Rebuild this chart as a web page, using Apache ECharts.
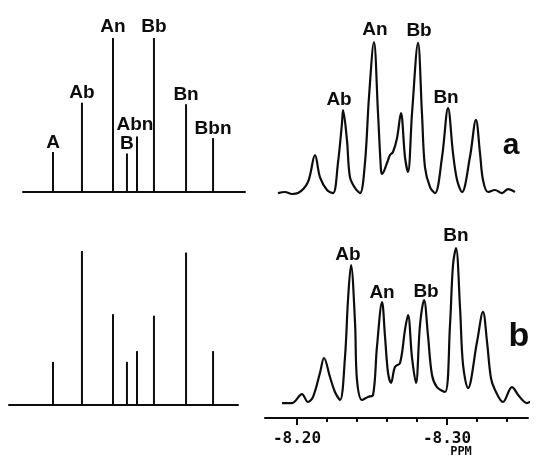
<!DOCTYPE html>
<html><head><meta charset="utf-8">
<script src="https://cdn.jsdelivr.net/npm/echarts@6/dist/echarts.min.js"></script>
<style>html,body{margin:0;padding:0;background:#fff}#c{width:545px;height:459px}</style>
</head><body><div id="c"></div>
<script>
// ---- data ----
const stickNames = ['A','Ab','An','B','Abn','Bb','Bn','Bbn'];
const stickPpm = [-8.212,-8.2313,-8.252,-8.2613,-8.268,-8.2793,-8.3007,-8.3187];
const stickHeightsA = [26,58,100,25,36,100,57,35];
const stickHeightsB = [28,100,59,28,35,58,99,35];

const spectrumA = [[-8.1873,1.9],[-8.192,2.6],[-8.1967,1.3],[-8.2007,1.9],[-8.2073,9.1],[-8.212,26.6],[-8.2153,12.3],[-8.22,3.9],[-8.224,1.9],[-8.2273,21.4],[-8.23,47.4],[-8.2307,55.8],[-8.2333,36.4],[-8.2353,12.3],[-8.2387,5.2],[-8.242,1.9],[-8.2453,21.4],[-8.248,64.3],[-8.2513,100],[-8.254,53.9],[-8.256,16.9],[-8.2567,14.3],[-8.26,21.4],[-8.262,26.6],[-8.264,28.6],[-8.2667,37.7],[-8.2693,53.9],[-8.272,25.3],[-8.274,15.6],[-8.2767,53.9],[-8.2807,99.4],[-8.2833,53.9],[-8.2853,18.8],[-8.2887,5.8],[-8.292,1.9],[-8.2967,25.3],[-8.3007,57.1],[-8.304,27.9],[-8.3067,10.4],[-8.31,2.6],[-8.3153,25.3],[-8.3193,49.4],[-8.322,27.9],[-8.324,10.4],[-8.3273,2.6],[-8.332,3.9],[-8.3367,1.9],[-8.3407,4.5],[-8.3453,2.6]];

const spectrumB = [[-8.19,8.8],[-8.1967,8.8],[-8.2033,14.1],[-8.2073,9.4],[-8.2107,12.4],[-8.2153,26.5],[-8.218,35.3],[-8.222,24.1],[-8.2253,15.3],[-8.2287,10.6],[-8.232,35.9],[-8.234,69.4],[-8.236,90],[-8.2387,55.9],[-8.24,22.4],[-8.2433,10.6],[-8.2473,12.4],[-8.2507,13.5],[-8.2533,41.8],[-8.2567,68.2],[-8.2587,47.6],[-8.2607,26.5],[-8.2627,20.6],[-8.2653,30],[-8.2687,32.4],[-8.272,51.8],[-8.274,60.6],[-8.2767,35.3],[-8.2793,20.6],[-8.282,54.7],[-8.2847,69.4],[-8.2873,48.8],[-8.29,25.3],[-8.2933,18.2],[-8.2987,15.3],[-8.302,54.7],[-8.304,90],[-8.306,100],[-8.3087,64.7],[-8.3107,31.2],[-8.314,17.6],[-8.32,44.7],[-8.324,62.4],[-8.3267,44.7],[-8.3293,23.5],[-8.332,16.5],[-8.3373,9.4],[-8.3433,18.2],[-8.348,12.9],[-8.3533,8.8],[-8.36,11.8],[-8.3653,13.5]];

const peakNamesA = ['Ab','An','Bb','Bn'];
const peakPpmA = [-8.2307,-8.2513,-8.2807,-8.3007];
const peakHeightA = [55.8,100,99.4,57.1];
const peakNamesB = ['Ab','An','Bb','Bn'];
const peakPpmB = [-8.236,-8.2567,-8.2847,-8.306];
const peakHeightB = [90,68.2,69.4,100];

const tickValues = [-8.20,-8.22,-8.24,-8.26,-8.28,-8.30,-8.32,-8.34];
const tickLabelValues = [-8.20,-8.30];
const axisUnit = 'PPM';
const panelLetters = ['a','b'];

// ---- styling ----
const INK = '#0d0d0d';
const LABEL_FONT = {fontFamily:'Liberation Sans', fontWeight:'bold', fontSize:19, color:INK};
const stickLabelNudge = {An:[0,-2], Bb:[0,-2], Abn:[-2,-2]};
const peakLabelNudgeA = {Ab:[-4,1], An:[1,-1], Bb:[1,-1], Bn:[-2,1]};
const peakLabelNudgeB = {Ab:[-3,1], An:[0,2], Bb:[2,3], Bn:[0,-1]};

function hiddenX(grid, min, max){
  return {type:'value', gridIndex:grid, min, max, inverse:true, show:false};
}
function baseX(grid, min, max){
  return {type:'value', gridIndex:grid, min, max, inverse:true,
    axisLine:{show:true, onZero:false, lineStyle:{color:INK, width:2}},
    axisTick:{show:false}, axisLabel:{show:false}, splitLine:{show:false}};
}
function yAx(grid){
  return {type:'value', gridIndex:grid, min:0, max:100, show:false, splitLine:{show:false}};
}
function stickSeries(xi, heights, withLabels){
  return {type:'bar', xAxisIndex:xi, yAxisIndex:xi, barWidth:2, itemStyle:{color:INK},
    silent:true,
    data: stickPpm.map((p,i)=>{
      const d = {value:[p, heights[i]]};
      if (withLabels){
        const n = stickLabelNudge[stickNames[i]] || [0,0];
        d.label = {show:true, position:'top', distance:0, offset:n,
          formatter:stickNames[i], ...LABEL_FONT};
      }
      return d;
    })};
}
function spectrum(xi, data){
  return {type:'line', xAxisIndex:xi, yAxisIndex:xi, data, smooth:0.35, symbol:'none',
    clip:false, lineStyle:{color:INK, width:2.2}, silent:true};
}
function peakLabels(xi, names, ppm, h, nudge){
  return {type:'scatter', xAxisIndex:xi, yAxisIndex:xi, symbolSize:0, silent:true, clip:false,
    itemStyle:{opacity:1, color:INK},
    data: names.map((n,i)=>({value:[ppm[i], h[i]],
      label:{show:true, position:'top', distance:2, offset:nudge[n]||[0,0], formatter:n, ...LABEL_FONT}}))};
}

const option = {
  animation:false,
  backgroundColor:'#ffffff',
  grid:[
    {left:23, top:38, width:222, height:154},
    {left:9, top:251, width:229, height:154},
    {left:265, top:42, width:263, height:154},
    {left:265, top:248, width:263, height:170}
  ],
  xAxis:[
    baseX(0, -8.34, -8.192),
    baseX(1, -8.33533, -8.18267),
    hiddenX(2, -8.354, -8.17867),
    {type:'value', gridIndex:3, min:-8.354, max:-8.17867, inverse:true, position:'bottom',
      axisLine:{show:true, onZero:false, lineStyle:{color:INK, width:2}},
      axisTick:{show:true, customValues:tickValues, length:4, lineStyle:{color:INK, width:2}},
      axisLabel:{show:false}, splitLine:{show:false}},
    {type:'value', gridIndex:3, min:-8.354, max:-8.17867, inverse:true, position:'bottom',
      axisLine:{show:false},
      axisTick:{show:true, customValues:tickLabelValues, length:7, lineStyle:{color:INK, width:2}},
      axisLabel:{show:true, customValues:tickLabelValues, margin:13,
        formatter:v=>Number(v).toFixed(2),
        fontFamily:'DejaVu Sans Mono', fontWeight:'bold', fontSize:16, color:INK},
      splitLine:{show:false}}
  ],
  yAxis:[yAx(0), yAx(1), yAx(2), yAx(3), yAx(3)],
  series:[
    stickSeries(0, stickHeightsA, true),
    stickSeries(1, stickHeightsB, false),
    spectrum(2, spectrumA),
    peakLabels(2, peakNamesA, peakPpmA, peakHeightA, peakLabelNudgeA),
    spectrum(3, spectrumB),
    peakLabels(3, peakNamesB, peakPpmB, peakHeightB, peakLabelNudgeB)
  ],
  graphic:[
    {type:'text', x:511, y:146, style:{text:panelLetters[0], x:0, y:0,
      font:'bold 30px "Liberation Sans"', fill:INK, align:'center', verticalAlign:'middle'}},
    {type:'text', x:519, y:337, style:{text:panelLetters[1], x:0, y:0,
      font:'bold 34px "Liberation Sans"', fill:INK, align:'center', verticalAlign:'middle'}},
    {type:'text', x:461, y:452, style:{text:axisUnit, x:0, y:0,
      font:'bold 12px "DejaVu Sans Mono"', fill:INK, align:'center', verticalAlign:'middle'}}
  ]
};
const chart = echarts.init(document.getElementById('c'), null, {renderer:'canvas'});
chart.setOption(option);
</script></body></html>
